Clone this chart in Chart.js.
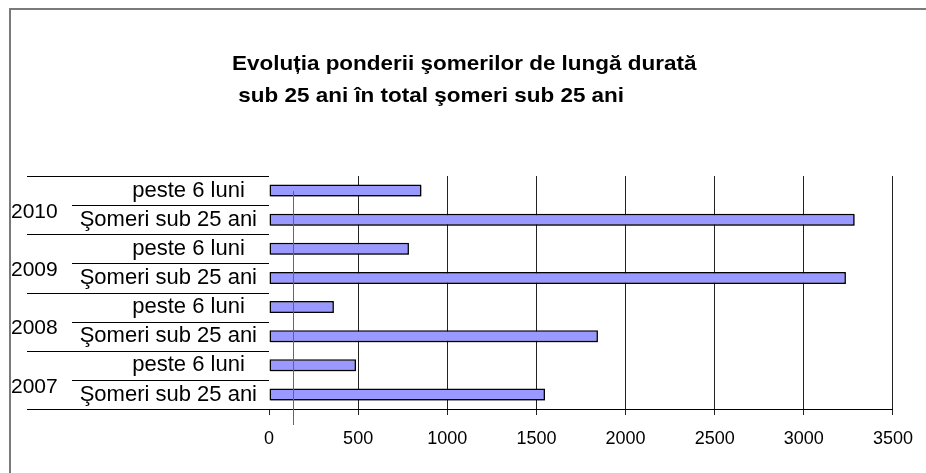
<!DOCTYPE html>
<html lang="ro">
<head>
<meta charset="UTF-8">
<title>Evoluția ponderii şomerilor de lungă durată</title>
<script src="https://cdn.jsdelivr.net/npm/chart.js"></script>
<style>
    html, body {
        margin: 0;
        padding: 0;
        background: #ffffff;
        overflow: hidden;
    }
    #wrap {
        position: relative;
        width: 926px;
        height: 473px;
    }
    #frame {
        position: absolute;
        left: 9px;
        top: 8px;
        width: 2000px;
        height: 2000px;
        border-left: 2px solid #7a7a7a;
        border-top: 2px solid #7a7a7a;
        pointer-events: none;
    }
</style>
</head>
<body>
<div id="wrap">
    <canvas id="chart"></canvas>
    <div id="frame"></div>
</div>
<script>
// data, top to bottom
const years = ['2010', '2009', '2008', '2007'];
const seriesNames = ['peste 6 luni  ', 'Şomeri sub 25 ani'];
const peste6Luni = [855, 785, 364, 488];
const someriSub25 = [3285, 3236, 1845, 1548];
const xTicks = [0, 500, 1000, 1500, 2000, 2500, 3000, 3500];
const titleLines = ['Evoluția ponderii şomerilor de lungă durată', ' sub 25 ani în total şomeri sub 25 ani'];
const strayLineValue = 133; // the odd vertical line near the origin

const FONT = '"Liberation Sans", Arial, sans-serif';

// interleave: for each year, "peste 6 luni" then "Şomeri sub 25 ani"
const labels = [];
const values = [];
years.forEach((y, i) => {
    labels.push(seriesNames[0], seriesNames[1]);
    values.push(peste6Luni[i], someriSub25[i]);
});

const titlePlugin = {
    id: 'leftTitle',
    afterDraw(chart) {
        const ctx = chart.ctx;
        ctx.save();
        ctx.fillStyle = '#000';
        ctx.font = 'bold 21px ' + FONT;
        ctx.textAlign = 'left';
        ctx.textBaseline = 'middle';
        // the original text is a bit wider than the font
        ctx.translate(232, 0);
        ctx.scale(1.07, 1);
        ctx.fillText(titleLines[0], 0, 64);
        ctx.fillText(titleLines[1], 0, 96);
        ctx.restore();
    }
};

// category frame: year labels and the split lines left of the plot
const categoryFrame = {
    id: 'categoryFrame',
    afterDraw(chart) {
        const ctx = chart.ctx;
        const ys = chart.scales.y;
        const area = chart.chartArea;
        const n = labels.length;
        const half = (ys.getPixelForValue(1) - ys.getPixelForValue(0)) / 2;
        ctx.save();
        ctx.strokeStyle = '#000';
        ctx.lineWidth = 1;
        for (let i = 0; i <= n; i++) {
            let yy = i < n ? ys.getPixelForValue(i) - half : ys.getPixelForValue(n - 1) + half;
            yy = Math.round(yy) + 0.5;
            const x0 = i % 2 === 0 ? 27 : 72;
            ctx.beginPath();
            ctx.moveTo(x0, yy);
            ctx.lineTo(area.left, yy);
            ctx.stroke();
        }
        ctx.fillStyle = '#000';
        ctx.font = '21px ' + FONT;
        ctx.textAlign = 'left';
        ctx.textBaseline = 'middle';
        years.forEach((yr, i) => {
            const yy = ys.getPixelForValue(i * 2) + half;
            ctx.fillText(yr, 11, yy + 7);
        });
        ctx.restore();
    }
};

const barShadow = {
    id: 'barShadow',
    beforeDatasetsDraw(chart) {
        const ctx = chart.ctx;
        ctx.save();
        ctx.shadowColor = 'rgba(0,0,0,0.45)';
        ctx.shadowOffsetX = 1;
        ctx.shadowOffsetY = 1;
        ctx.shadowBlur = 0;
    },
    afterDatasetsDraw(chart) {
        const ctx = chart.ctx;
        ctx.restore();
        const xs = chart.scales.x;
        const area = chart.chartArea;
        const x = Math.round(xs.getPixelForValue(strayLineValue)) + 0.5;
        ctx.save();
        ctx.strokeStyle = '#666';
        ctx.lineWidth = 1;
        ctx.beginPath();
        ctx.moveTo(x, area.top + 15);
        ctx.lineTo(x, area.bottom + 16);
        ctx.stroke();
        ctx.restore();
    }
};

new Chart(document.getElementById('chart'), {
    type: 'bar',
    data: {
        labels: labels,
        datasets: [{
            data: values,
            backgroundColor: '#9999ff',
            borderColor: '#000000',
            borderWidth: 1.5,
            borderSkipped: false,
            categoryPercentage: 1,
            barPercentage: 0.41
        }]
    },
    options: {
        indexAxis: 'y',
        responsive: true,
        maintainAspectRatio: false,
        animation: false,
        layout: {
            padding: { left: 0, right: 33, top: 176, bottom: 0 }
        },
        plugins: {
            legend: { display: false },
            title: { display: false },
            tooltip: { enabled: false }
        },
        scales: {
            x: {
                z: 1,
                min: xTicks[0],
                max: xTicks[xTicks.length - 1],
                afterBuildTicks(scale) {
                    scale.ticks = xTicks.map(v => ({ value: v }));
                },
                afterFit(scale) {
                    scale.height = 64;
                },
                grid: {
                    color: ctx => (ctx.tick && ctx.tick.value === 0) ? 'rgba(0,0,0,0)' : '#222',
                    tickColor: '#222',
                    tickLength: 6,
                    lineWidth: 1
                },
                border: { display: true, color: '#000', width: 1 },
                ticks: {
                    color: '#000',
                    padding: 13,
                    maxRotation: 0,
                    callback: v => String(v),
                    font: { family: FONT, size: 18 }
                }
            },
            y: {
                offset: true,
                afterFit(scale) {
                    scale.width = 269;
                },
                grid: { display: false, drawTicks: false, tickLength: 0 },
                border: { display: false },
                ticks: {
                    color: '#000',
                    padding: 12,
                    autoSkip: false,
                    font: { family: FONT, size: 22 }
                }
            }
        }
    },
    plugins: [titlePlugin, categoryFrame, barShadow]
});
</script>
</body>
</html>
